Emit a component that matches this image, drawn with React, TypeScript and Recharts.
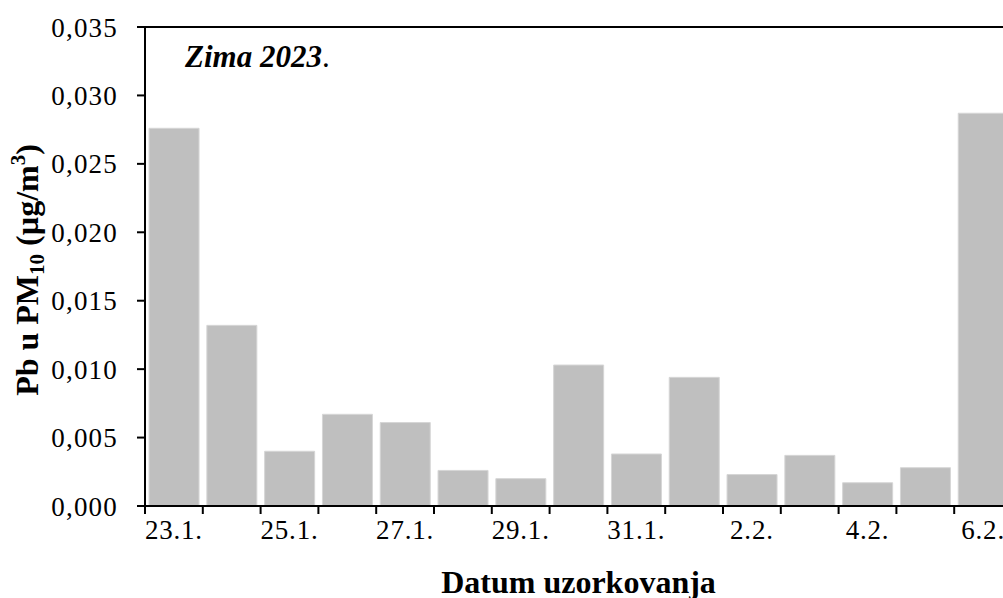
import { BarChart, Bar, XAxis, YAxis, ReferenceLine } from 'recharts';

const dates = ['23.1.', '24.1.', '25.1.', '26.1.', '27.1.', '28.1.', '29.1.', '30.1.', '31.1.', '1.2.', '2.2.', '3.2.', '4.2.', '5.2.', '6.2.'];
const pbValues = [0.0276, 0.0132, 0.0040, 0.0067, 0.0061, 0.0026, 0.0020, 0.0103, 0.0038, 0.0094, 0.0023, 0.0037, 0.0017, 0.0028, 0.0287];
const yTicks = [0, 0.005, 0.01, 0.015, 0.02, 0.025, 0.03, 0.035];

const data = dates.map((date, i) => ({ date, pb: pbValues[i] }));

const FONT = '"Liberation Serif", "Times New Roman", serif';

const DateTick = ({ x, y, payload, index }: any) => {
  const half = payload?.offset ?? 28.9;
  const lineX = x - half;
  return (
    <g>
      <line x1={lineX} y1={y - 8} x2={lineX} y2={y} stroke="#000" strokeWidth={2} />
      {index % 2 === 0 && (
        <text x={x} y={y + 6} dy="0.71em" textAnchor="middle" fontFamily={FONT} fontSize={27} fill="#000" letterSpacing={0.8}>
          {payload.value}
        </text>
      )}
    </g>
  );
};

export default function App() {
  return (
    <div style={{ position: 'absolute', left: 0, top: 0, width: 1003, height: 598, overflow: 'hidden', background: '#fff' }}>
      <BarChart width={1020} height={598} data={data} margin={{ top: 27, right: 8, bottom: 0, left: 0 }} barCategoryGap="7%">
        <XAxis
          dataKey="date"
          interval={0}
          height={92}
          tickSize={8}
          tickMargin={0}
          tickLine={false}
          axisLine={{ stroke: '#000', strokeWidth: 2 }}
          tick={<DateTick />}
          label={{ value: 'Datum uzorkovanja', position: 'insideBottom', offset: 5, fontFamily: FONT, fontSize: 32, fontWeight: 'bold', fill: '#000' }}
        />
        <YAxis
          width={145}
          domain={[0, 0.035]}
          ticks={yTicks}
          interval={0}
          tickSize={8}
          tickMargin={19}
          axisLine={{ stroke: '#000', strokeWidth: 2 }}
          tickLine={{ stroke: '#000', strokeWidth: 2 }}
          tick={{ fontFamily: FONT, fontSize: 27, fill: '#000', letterSpacing: 1.2 }}
          tickFormatter={(v: number) => v.toFixed(3).replace('.', ',')}
        />
        <ReferenceLine y={0.035} stroke="#000" strokeWidth={2} />
        <Bar dataKey="pb" fill="#bfbfbf" stroke="#d6d6d6" strokeWidth={1} isAnimationActive={false} />
        <text x={38} y={270} transform="rotate(-90, 38, 270)" textAnchor="middle" fontFamily={FONT} fontSize={32} fontWeight="bold" fill="#000">
          Pb u PM<tspan fontSize={21} dy={6}>10</tspan>
          <tspan dy={-6}> (µg/m</tspan>
          <tspan fontSize={21} dy={-13}>3</tspan>
          <tspan dy={13}>)</tspan>
        </text>
        <text x={185} y={67} fontFamily={FONT} fontSize={31} fill="#000">
          <tspan fontWeight="bold" fontStyle="italic">Zima 2023</tspan>
          <tspan>.</tspan>
        </text>
      </BarChart>
    </div>
  );
}
